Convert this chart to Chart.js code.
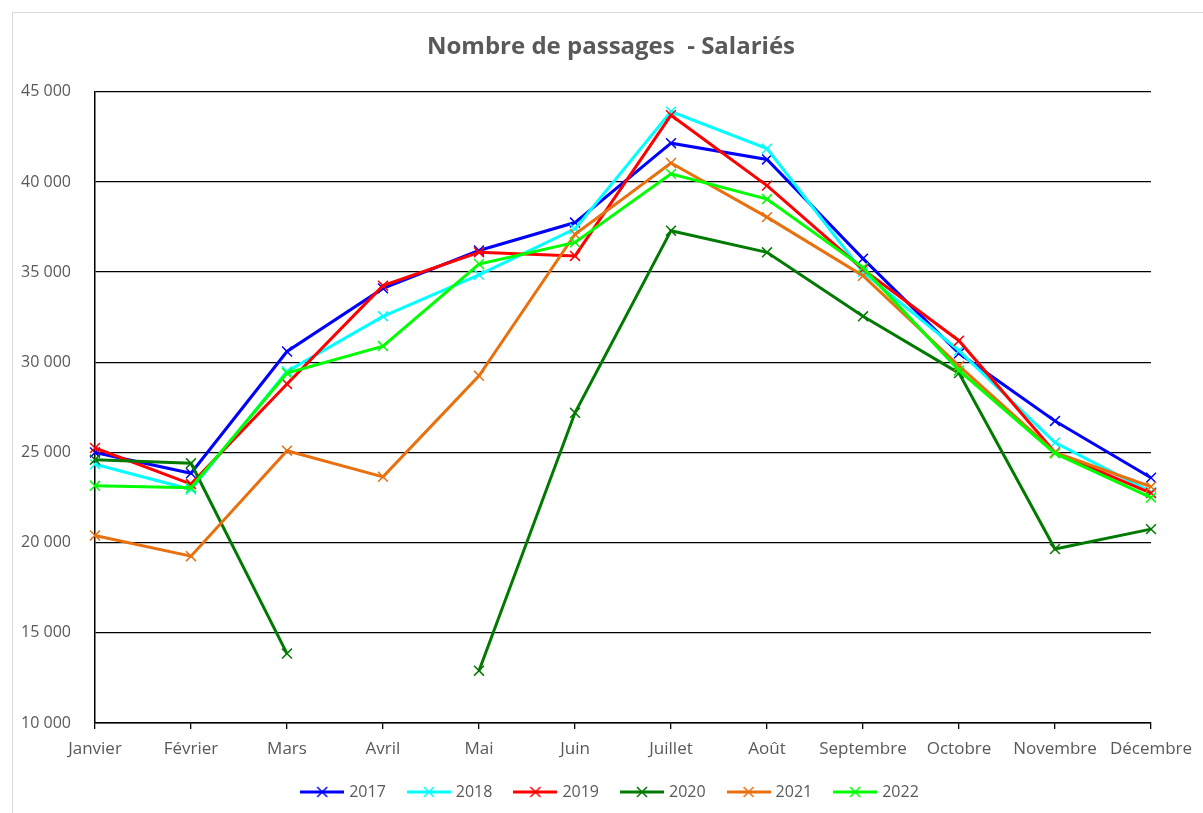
<!DOCTYPE html>
<html>
<head>
  <meta charset="utf-8">
  <title>Nombre de passages - Salariés</title>
  <script src="https://cdn.jsdelivr.net/npm/chart.js"></script>
  <style>
    body { margin: 0; background: #fff; overflow: hidden; }
    #cadre { position: absolute; left: 12px; top: 12px; width: 1300px; height: 900px; border: 1px solid #d9d9d9; }
    #graphique { position: absolute; left: 0; top: 0; }
  </style>
</head>
<body>
  <div id="cadre"></div>
  <canvas id="graphique" width="1203" height="813"></canvas>

  <script>
    // Données
    const mois = ['Janvier', 'Février', 'Mars', 'Avril', 'Mai', 'Juin', 'Juillet', 'Août', 'Septembre', 'Octobre', 'Novembre', 'Décembre'];
    const annees = ['2017', '2018', '2019', '2020', '2021', '2022'];
    const couleurs = ['#0000ff', '#00ffff', '#ff0000', '#007a00', '#e8700e', '#00ff00'];

    const passages2017 = [25000, 23850, 30600, 34100, 36200, 37750, 42150, 41250, 35750, 30500, 26750, 23600];
    const passages2018 = [24350, 22950, 29500, 32550, 34850, 37400, 43900, 41850, 35000, 30650, 25550, 22800];
    const passages2019 = [25250, 23250, 28800, 34250, 36100, 35900, 43700, 39800, 35150, 31200, 25000, 22750];
    const passages2020 = [24600, 24400, 13850, null, 12900, 27200, 37300, 36100, 32550, 29400, 19650, 20750];
    const passages2021 = [20400, 19250, 25100, 23650, 29250, 37100, 41050, 38050, 34800, 29800, 25000, 23100];
    const passages2022 = [23150, 23050, 29400, 30900, 35450, 36650, 40450, 39050, 35250, 29550, 24950, 22500];
    const series = [passages2017, passages2018, passages2019, passages2020, passages2021, passages2022];

    const yMin = 10000;
    const yMax = 45000;
    const yPas = 5000;

    const gris = '#595959';
    Chart.defaults.font.family = "'Open Sans', sans-serif";
    Chart.defaults.color = gris;

    // petite icône ligne + croix pour la légende
    function iconeLegende(couleur) {
      const c = document.createElement('canvas');
      c.width = 44;
      c.height = 14;
      const g = c.getContext('2d');
      g.strokeStyle = couleur;
      g.lineWidth = 3;
      g.beginPath();
      g.moveTo(0, 7);
      g.lineTo(44, 7);
      g.stroke();
      g.lineWidth = 1.5;
      g.beginPath();
      g.moveTo(17, 2);
      g.lineTo(27, 12);
      g.moveTo(27, 2);
      g.lineTo(17, 12);
      g.stroke();
      return c;
    }
    const icones = couleurs.map(iconeLegende);

    const jeux = annees.map((an, i) => ({
      label: an,
      data: series[i],
      borderColor: couleurs[i],
      backgroundColor: couleurs[i],
      borderWidth: 3,
      pointStyle: 'crossRot',
      pointRadius: 7,
      pointBorderWidth: 1.5,
      pointBorderColor: couleurs[i],
      tension: 0,
      fill: false,
      order: annees.length - i,
    }));

    // titre et légende centrés comme dans Excel (le cadre déborde à droite)
    const recentrer = {
      id: 'recentrer',
      afterLayout(chart) {
        [chart.titleBlock, chart.legend].forEach((b) => {
          if (!b) return;
          b.left = 72;
          b.right = 1150;
        });
      },
    };

    const ctx = document.getElementById('graphique').getContext('2d');
    new Chart(ctx, {
      type: 'line',
      data: { labels: mois, datasets: jeux },
      plugins: [recentrer],
      options: {
        responsive: false,
        devicePixelRatio: 1,
        animation: false,
        layout: { padding: { left: 0, right: 52, top: 0, bottom: 3 } },
        plugins: {
          title: {
            display: true,
            text: 'Nombre de passages  - Salariés',
            color: gris,
            font: { size: 24, weight: 'bold' },
            padding: { top: 33, bottom: 30 },
          },
          legend: {
            position: 'bottom',
            labels: {
              usePointStyle: true,
              pointStyleWidth: 38,
              padding: 24,
              color: gris,
              font: { size: 16 },
              generateLabels: (chart) => chart.data.datasets.map((ds, i) => ({
                text: ds.label,
                fillStyle: ds.borderColor,
                strokeStyle: ds.borderColor,
                lineWidth: 0,
                pointStyle: icones[i],
                fontColor: gris,
                hidden: false,
                datasetIndex: i,
              })),
            },
          },
          tooltip: { enabled: false },
        },
        scales: {
          x: {
            offset: false,
            grid: { display: true, drawOnChartArea: false, drawTicks: true, tickLength: 6, color: '#000', lineWidth: 1.3 },
            border: { color: '#000', width: 1.5 },
            ticks: { color: gris, font: { size: 17 }, padding: 10, maxRotation: 0, autoSkip: false },
            afterFit: (scale) => { scale.height = 37; },
          },
          y: {
            min: yMin,
            max: yMax,
            grid: { color: '#000', lineWidth: 1.3, drawTicks: false },
            border: { color: '#000', width: 1.5 },
            ticks: {
              stepSize: yPas,
              color: gris,
              font: { size: 16 },
              padding: 24,
              callback: (v) => v.toLocaleString('fr-FR').replace(/\s/g, ' '),
            },
            afterFit: (scale) => { scale.width = 95; },
          },
        },
      },
    });
  </script>
</body>
</html>
